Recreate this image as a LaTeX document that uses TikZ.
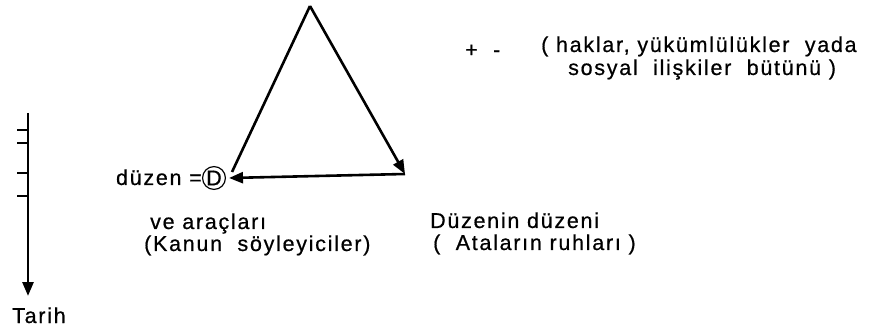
\documentclass[tikz,border=0pt]{standalone}
\usepackage{fontspec}
\setmainfont{Liberation Sans}
\newfontfamily\lblfont[LetterSpace=8,FakeBold=0.6]{Liberation Sans}
\usetikzlibrary{arrows.meta}
\begin{document}
\begin{tikzpicture}[x=1pt,y=-1pt,
  lbl/.style={inner sep=0pt,anchor=base west,font=\lblfont\fontsize{21.5}{25}\selectfont},
  edge/.style={line width=2.6pt},
  arr/.style={edge,-{Triangle[length=14pt,width=11pt]}}]
\useasboundingbox (0,0) rectangle (879,334);
% triangle
\coordinate (apex) at (310,6);
\coordinate (rv) at (405,174);
\node[draw,circle,line width=1.2pt,inner sep=0.5pt,font=\lblfont\fontsize{21.5}{25}\selectfont] (D) at (214,178) {D};
\coordinate (dtip) at (229,178);
\draw[edge] (apex) -- (232,172);
\draw[arr] (apex) -- (rv);
\draw[arr] (rv) -- (dtip);
% timeline
\coordinate (t0) at (28,113);
\coordinate (t1) at (28,296);
\draw[arr] (t0) -- (t1);
\foreach \yy in {130,143,173,196} \draw[line width=1.2pt] (17,\yy) -- (28,\yy);
\node[lbl] (tarih) at (12,323) {Tarih};
% labels
\node[lbl,anchor=base east] (duzen) at (202,185) {düzen =};
\node[lbl] (ve) at (150,229) {ve araçları};
\node[lbl] (kanun) at (144,251) {(Kanun\ \ söyleyiciler)};
\node[lbl] (dd) at (430,228) {Düzenin düzeni};
\node[lbl] (ata) at (433,250) {(\ \ Ataların ruhları )};
\node[lbl] (pm) at (465,57) {+\ \ -};
\node[lbl] (hak) at (541,52) {(\ haklar,\ yükümlülükler\ \ yada};
\node[lbl] (sos) at (568,75) {sosyal\ \ ilişkiler\ \ bütünü\ )};
\end{tikzpicture}
\end{document}
